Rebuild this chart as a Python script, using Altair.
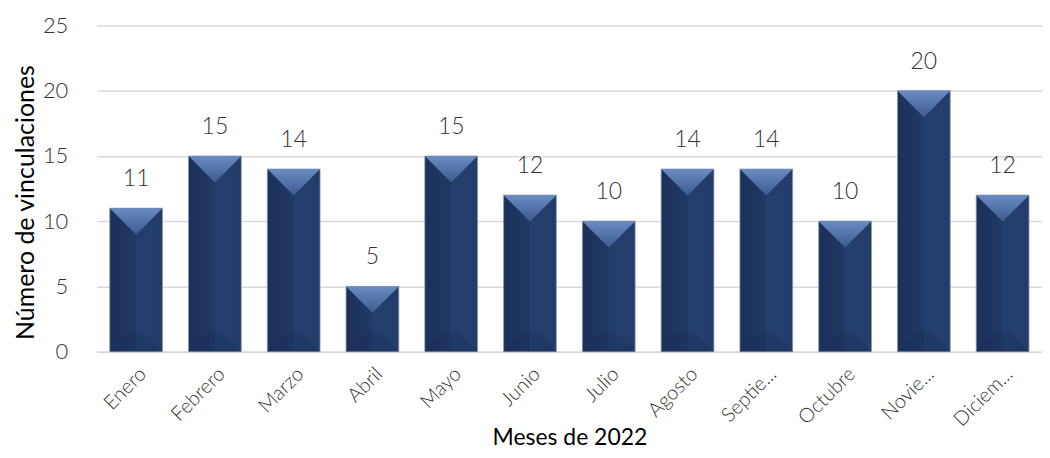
import altair as alt
import pandas as pd

months = ["Enero", "Febrero", "Marzo", "Abril", "Mayo", "Junio", "Julio",
          "Agosto", "Septie...", "Octubre", "Novie...", "Diciem..."]
values = [11, 15, 14, 5, 15, 12, 10, 14, 14, 10, 20, 12]

df = pd.DataFrame({"mes": months, "n": values, "base": [0] * len(values)})

FONT = "Lato"
BW = 0.67 * 79
SIZE = BW * BW

x_enc = alt.X("mes:N", sort=months,
              scale=alt.Scale(paddingInner=0.33, paddingOuter=0.165),
              axis=alt.Axis(title="Meses de 2022", labelAngle=-45, labelFontSize=20,
                            labelFont=FONT, labelFontWeight=300, labelColor="#333333",
                            labelPadding=12, ticks=False, domain=True, domainColor="#d9d9d9",
                            domainWidth=1.5, titleFont=FONT, titleFontSize=23,
                            titleFontWeight="normal", titleColor="black",
                            titleY=86, titleBaseline="middle", grid=False))

y_scale = alt.Scale(domain=[0, 25])

bar_fill = alt.Gradient(
    gradient="linear", x1=0, x2=1, y1=0, y2=0,
    stops=[alt.GradientStop(offset=0, color="#1b305a"),
           alt.GradientStop(offset=0.5, color="#213964"),
           alt.GradientStop(offset=0.5, color="#253f6d"),
           alt.GradientStop(offset=1, color="#233c69")])

bars = alt.Chart(df).mark_bar(fill=bar_fill, stroke="#8a99b3", strokeWidth=1,
                              strokeOpacity=0.8).encode(
    x=x_enc,
    y=alt.Y("n:Q", scale=y_scale,
            axis=alt.Axis(title="Número de vinculaciones", values=[0, 5, 10, 15, 20, 25],
                          labelFont=FONT, labelFontSize=22, labelFontWeight=300,
                          labelColor="#333333", labelPadding=29, ticks=False,
                          domain=False, grid=True, gridColor="#d9d9d9", gridWidth=1.5,
                          titleFont=FONT, titleFontSize=25, titleFontWeight="normal",
                          titleColor="black", titleX=-58, titleY=177)),
)

top_fill = alt.Gradient(
    gradient="linear", x1=0, x2=0, y1=0, y2=1,
    stops=[alt.GradientStop(offset=0, color="#6a8cc2"),
           alt.GradientStop(offset=1, color="#3c5b90")])

tops = alt.Chart(df).mark_point(
    shape="M -1 0 L 1 0 L 0 1 Z", filled=True, fill=top_fill, opacity=1,
    size=SIZE, strokeWidth=0).encode(
    x=alt.X("mes:N", sort=months), y=alt.Y("n:Q", scale=y_scale))

bottoms = alt.Chart(df).mark_point(
    shape="M -1 0 L -0.25 -0.75 L 0.25 -0.75 L 1 0 Z", filled=True,
    fill="#182b52", opacity=0.3, size=SIZE, strokeWidth=0).encode(
    x=alt.X("mes:N", sort=months), y=alt.Y("base:Q", scale=y_scale))

labels = alt.Chart(df).mark_text(
    font=FONT, fontSize=23, fontWeight=300, color="#333333",
    baseline="bottom", dy=-17).encode(
    x=alt.X("mes:N", sort=months), y=alt.Y("n:Q", scale=y_scale),
    text=alt.Text("n:Q"))

chart = alt.layer(bars, bottoms, tops, labels).properties(
    width=948, height=327,
    autosize=alt.AutoSizeParams(type="none"),
    padding={"left": 89, "top": 17, "right": 0, "bottom": 98},
).configure_view(stroke=None)

chart.save("out.html", embed_options={"renderer": "svg", "actions": False})
